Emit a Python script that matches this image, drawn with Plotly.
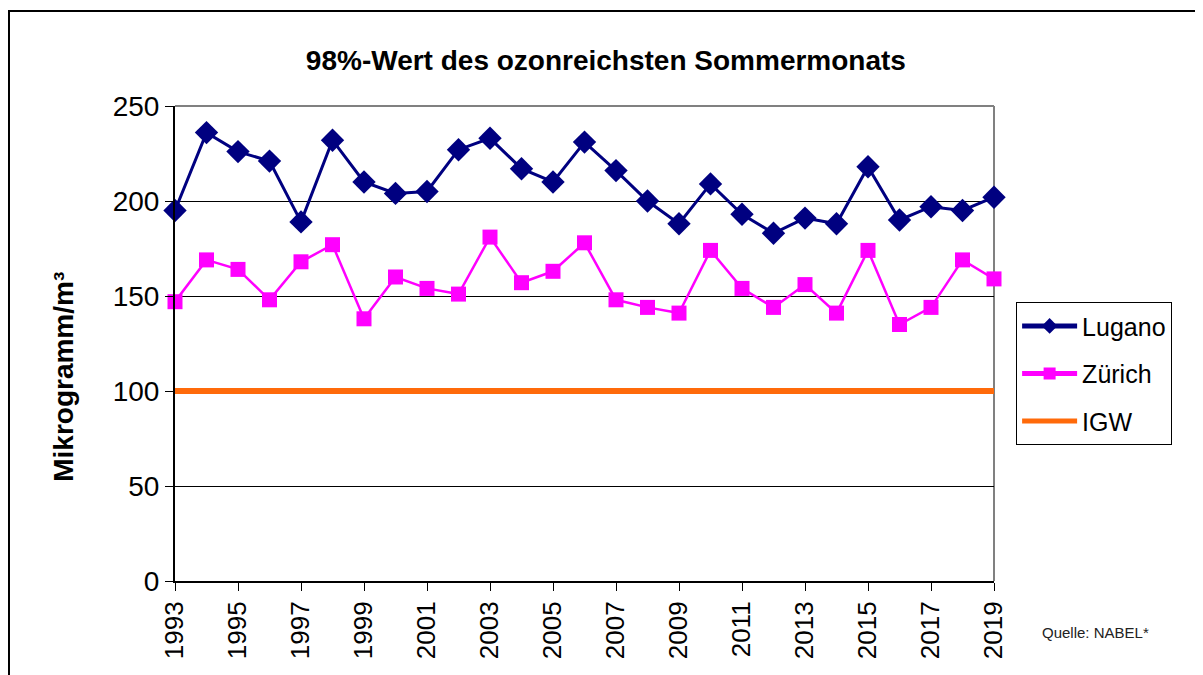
import plotly.graph_objects as go

years = list(range(1993, 2020))
lugano = [195, 236, 226, 221, 189, 232, 210, 204, 205, 227, 233, 217, 210, 231, 216,
          200, 188, 209, 193, 183, 191, 188, 218, 190, 197, 195, 202]
zuerich = [147, 169, 164, 148, 168, 177, 138, 160, 154, 151, 181, 157, 163, 178, 148,
           144, 141, 174, 154, 144, 156, 141, 174, 135, 144, 169, 159]
igw_years = [1993, 2019]
igw = [100, 100]
x_ticks = list(range(1993, 2020, 2))
y_ticks = [0, 50, 100, 150, 200, 250]

FONT = "Liberation Sans, Arial, sans-serif"

fig = go.Figure()
fig.add_trace(go.Scatter(
    x=igw_years, y=igw, name="IGW", mode="lines",
    line=dict(color="#FF6A0A", width=6), legendgroup="c", legendrank=3,
    cliponaxis=False))
fig.add_trace(go.Scatter(
    x=years, y=zuerich, name="Zürich", mode="lines+markers",
    line=dict(color="#FF00FF", width=2.5),
    marker=dict(symbol="square", size=15, color="#FF00FF"),
    legendgroup="b", legendrank=2, cliponaxis=False))
fig.add_trace(go.Scatter(
    x=years, y=lugano, name="Lugano", mode="lines+markers",
    line=dict(color="#000080", width=3),
    marker=dict(symbol="diamond", size=18, color="#000080"),
    legendgroup="a", legendrank=1, cliponaxis=False))

fig.update_layout(
    width=1203, height=675,
    margin=dict(l=167, r=217, t=98, b=102),
    paper_bgcolor="white", plot_bgcolor="white",
    font=dict(family=FONT, color="black"),
    title=dict(text="<b>98%-Wert des ozonreichsten Sommermonats</b>",
               x=0.497, xanchor="center", y=0.923, yanchor="middle",
               font=dict(size=28, family=FONT, color="black")),
    showlegend=True,
    legend=dict(x=1.027, xanchor="left", y=0.587, yanchor="top",
                bordercolor="black", borderwidth=1, bgcolor="white",
                font=dict(size=25, family=FONT, color="black"),
                tracegroupgap=12, traceorder="grouped",
                itemwidth=55, itemsizing="constant"),
)

fig.update_xaxes(
    range=[1993, 2019], tickvals=x_ticks, ticktext=[str(v) for v in x_ticks],
    tickangle=-90, tickfont=dict(size=26, family=FONT),
    showgrid=False, zeroline=False,
    showline=True, linecolor="black", linewidth=2,
    ticks="outside", ticklen=8, tickcolor="black", tickwidth=1)
fig.update_yaxes(
    range=[0, 250], tickvals=y_ticks,
    tickfont=dict(size=28, family=FONT),
    showgrid=True, gridcolor="black", gridwidth=1, zeroline=False,
    showline=True, linecolor="black", linewidth=2,
    ticks="outside", ticklen=8, tickcolor="black", tickwidth=1)

# y-axis title (placed lower than centre, as in the original)
fig.add_annotation(text="<b>Mikrogramm/m³</b>", xref="paper", yref="paper",
                   x=-0.1355, y=0.43, xanchor="center", yanchor="middle",
                   textangle=-90, showarrow=False,
                   font=dict(size=28, family=FONT, color="black"))

# grey top and right border of plot area
fig.add_shape(type="line", xref="paper", yref="paper", x0=0, x1=1, y0=1, y1=1,
              line=dict(color="#808080", width=2), layer="above")
fig.add_shape(type="line", xref="paper", yref="paper", x0=1, x1=1, y0=0, y1=1,
              line=dict(color="#808080", width=2), layer="below")
# outer chart frame
fig.add_shape(type="rect", xref="paper", yref="paper",
              x0=-0.2027, x1=1.27, y0=-0.22, y1=1.2,
              line=dict(color="black", width=2), fillcolor="rgba(0,0,0,0)", layer="below")

fig.add_annotation(text="Quelle: NABEL*", xref="paper", yref="paper",
                   x=1.056, y=-0.109, xanchor="left", yanchor="middle", showarrow=False,
                   font=dict(size=15, family="Liberation Sans Narrow, Liberation Sans, Arial",
                             color="#222222"))

fig.write_html("out.html")
